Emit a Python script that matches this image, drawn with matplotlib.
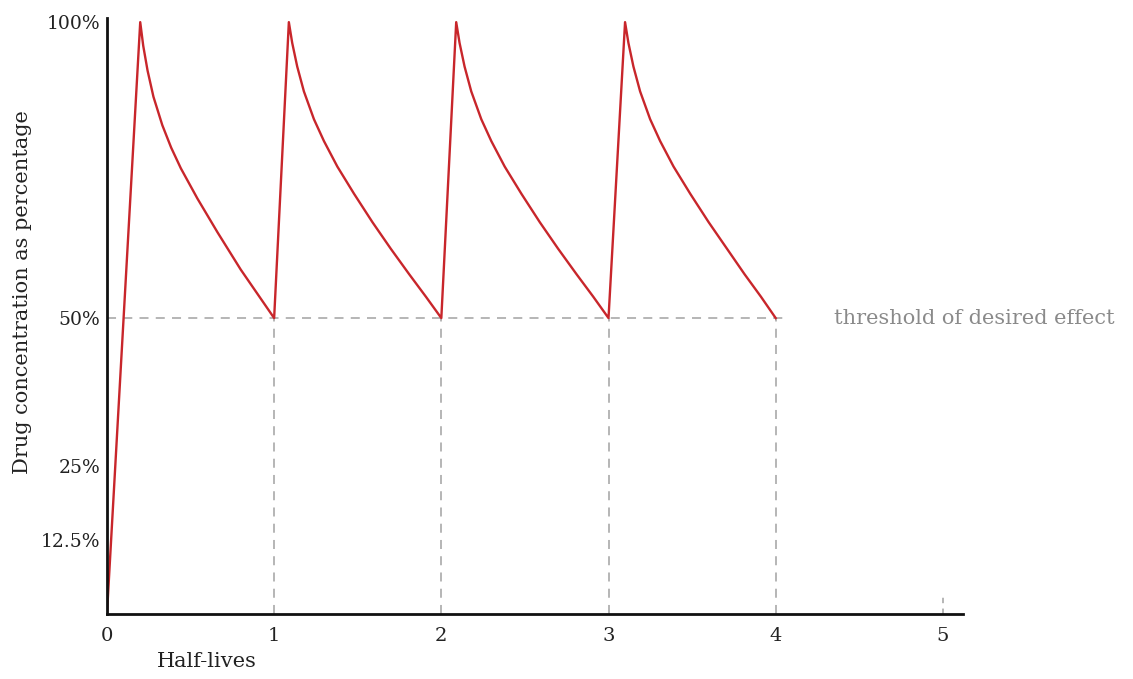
import numpy as np
import matplotlib
matplotlib.use("Agg")
import matplotlib.pyplot as plt

# concentration curve (half-lives, percent), one dose per list
dose1_x = [0.0, 0.199, 0.217, 0.243, 0.278, 0.331, 0.384, 0.442, 0.541, 0.661,
           0.800, 0.900, 1.0]
dose1_y = [0.0, 100.0, 96.0, 91.8, 87.4, 82.6, 78.8, 75.3, 70.2, 64.5,
           58.2, 54.1, 50.0]
dose2_x = [1.088, 1.108, 1.138, 1.178, 1.238, 1.298, 1.378, 1.478, 1.588, 1.698,
           1.808, 1.908, 2.0]
dose3_x = [2.089, 2.109, 2.139, 2.179, 2.239, 2.299, 2.379, 2.479, 2.589, 2.699,
           2.809, 2.909, 3.0]
dose4_x = [3.099, 3.119, 3.149, 3.189, 3.249, 3.309, 3.389, 3.489, 3.599, 3.709,
           3.814, 3.912, 4.0]
# later doses share the same decay readings
decay_y = [100.0, 96.5, 92.5, 88.3, 83.6, 79.9, 75.6, 71.0, 66.2, 61.7,
           57.4, 53.6, 50.0]

threshold = 50
threshold_end = 4.08
dose_times = [1, 2, 3, 4]
x_ticks = [0, 1, 2, 3, 4, 5]
y_ticks = [12.5, 25, 50, 100]
y_labels = ["12.5%", "25%", "50%", "100%"]

serif = ["DejaVu Serif"]
grey = "#b0b0b0"

curve_x = dose1_x + dose2_x + dose3_x + dose4_x
curve_y = dose1_y + decay_y * 3

fig = plt.figure(figsize=(11.33, 6.79), dpi=100)
ax = fig.add_axes([0.0944, 0.0957, 0.7555, 0.8778])

# threshold and guide lines
ax.plot([0, threshold_end], [threshold, threshold], ls=(0, (5, 4)), c=grey, lw=1.3)
for t in dose_times:
    ax.plot([t, t], [0, threshold], ls=(0, (5, 4)), c=grey, lw=1.3)
ax.plot([5, 5], [0, 3.5], ls=(0, (3, 3)), c=grey, lw=1.3)

ax.plot(curve_x, curve_y, c="#c8262b", lw=1.7, solid_joinstyle="round")

ax.text(4.35, threshold, "threshold of desired effect",
        family=serif, fontsize=15, color="#8a8a8a", va="center", ha="left",
        clip_on=False)

ax.set_xlim(0, 5.12)
ax.set_ylim(0, 100.7)
ax.set_xticks(x_ticks)
ax.set_xticklabels([str(v) for v in x_ticks], family=serif, fontsize=14)
ax.set_yticks(y_ticks)
ax.set_yticklabels(y_labels, family=serif, fontsize=13.5)
ax.tick_params(axis="y", length=0, pad=5, colors="#222222")
ax.tick_params(axis="x", length=0, pad=9, colors="#222222")

for s in ["top", "right"]:
    ax.spines[s].set_visible(False)
for s in ["left", "bottom"]:
    ax.spines[s].set_linewidth(2)
    ax.spines[s].set_color("#111111")

ax.set_xlabel("Half-lives", family=serif, fontsize=15, color="#222222")
ax.xaxis.set_label_coords(0.117, -0.064)
ax.set_ylabel("Drug concentration as percentage", family=serif, fontsize=15,
              color="#222222")
ax.yaxis.set_label_coords(-0.088, 0.54)

fig.savefig("out.png", dpi=100)
